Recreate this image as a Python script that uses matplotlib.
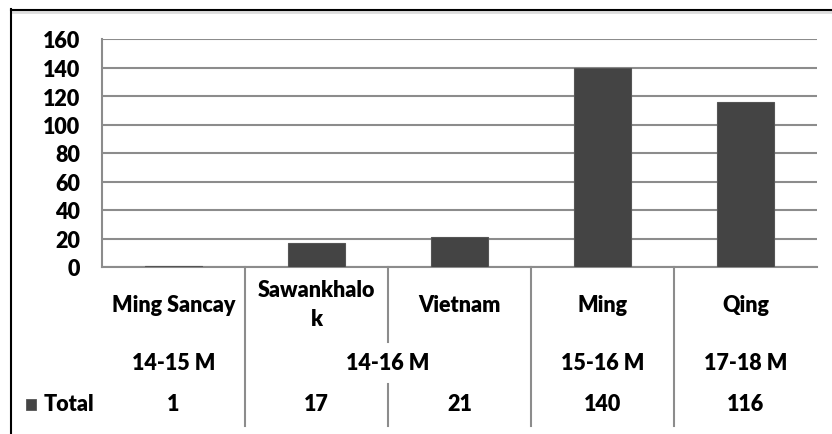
import matplotlib
matplotlib.use("Agg")
import matplotlib.pyplot as plt
from matplotlib.lines import Line2D
from matplotlib.patches import Rectangle

categories = ["Ming Sancay", "Sawankhalo\nk", "Vietnam", "Ming", "Qing"]
periods = ["14-15 M", "14-16 M", "15-16 M", "17-18 M"]
period_spans = [(0, 0), (1, 2), (3, 3), (4, 4)]
totals = [1, 17, 21, 140, 116]
series_name = "Total"
yticks = [0, 20, 40, 60, 80, 100, 120, 140, 160]

W, H = 832, 435
plt.rcParams['font.family'] = ['Lato', 'DejaVu Sans']
plt.rcParams['font.weight'] = 'bold'
fig = plt.figure(figsize=(W / 100, H / 100), dpi=100)

def fx(px):
    return px / W

def fy(py):
    return 1 - py / H

FS = 15.5
left, right, top, bottom = 102, 817, 40, 268
ax = fig.add_axes([fx(left), fy(bottom), fx(right) - fx(left), fy(top) - fy(bottom)])
x = list(range(len(categories)))
bar_color = "#444444"
ax.bar(x, totals, width=0.4, color=bar_color, edgecolor="#555555", linewidth=0.8, zorder=3)
ax.set_xlim(-0.5, len(categories) - 0.5)
ax.set_ylim(0, 160)
ax.set_yticks(yticks)
ax.set_yticklabels([str(t) for t in yticks], fontsize=FS, fontweight='heavy')
ax.tick_params(axis='y', length=0, pad=16)
ax.tick_params(axis='x', length=0, labelbottom=False)
ax.grid(axis='y', color="#8c8c8c", linewidth=1.5, zorder=0)
for s in ['top', 'right']:
    ax.spines[s].set_visible(False)
for s in ['left', 'bottom']:
    ax.spines[s].set_color("#8c8c8c")
    ax.spines[s].set_linewidth(1.5)

# table below axes: x in data coords, y in figure coords
trans = matplotlib.transforms.blended_transform_factory(ax.transData, fig.transFigure)
for i, c in enumerate(categories):
    ax.text(i, fy(305), c, transform=trans, ha='center', va='center', fontsize=FS,
            fontweight='heavy', linespacing=1.45, clip_on=False)
for p, (a, b) in zip(periods, period_spans):
    ax.text((a + b) / 2, fy(364), p, transform=trans, ha='center', va='center',
            fontsize=FS, fontweight='heavy', clip_on=False)
for i, v in enumerate(totals):
    ax.text(i, fy(405), str(v), transform=trans, ha='center', va='center',
            fontsize=FS, fontweight='heavy', clip_on=False)

line_kw = dict(color="#8c8c8c", linewidth=1.5, transform=trans, clip_on=False)
for b in [0.5, 1.5, 2.5, 3.5]:
    if b == 1.5:
        ax.add_line(Line2D([b, b], [fy(bottom), fy(343)], **line_kw))
        ax.add_line(Line2D([b, b], [fy(385), fy(427)], **line_kw))
    else:
        ax.add_line(Line2D([b, b], [fy(bottom), fy(427)], **line_kw))

# legend key
fig.patches.append(Rectangle((fx(26), fy(411)), fx(10), fy(400) - fy(411), transform=fig.transFigure,
                             facecolor=bar_color, edgecolor="#555555", linewidth=0.6))
fig.text(fx(44), fy(405), series_name, ha='left', va='center', fontsize=FS, fontweight='heavy')

# outer frame
fig.add_artist(Line2D([fx(11), 1], [fy(13), fy(13)], color="#dddddd", linewidth=2))
fig.add_artist(Line2D([fx(11), 1], [fy(10.5), fy(10.5)], color="black", linewidth=1.5))
fig.add_artist(Line2D([fx(11), fx(11)], [fy(10), 0], color="black", linewidth=1.5))

fig.savefig("out.png", dpi=100)
